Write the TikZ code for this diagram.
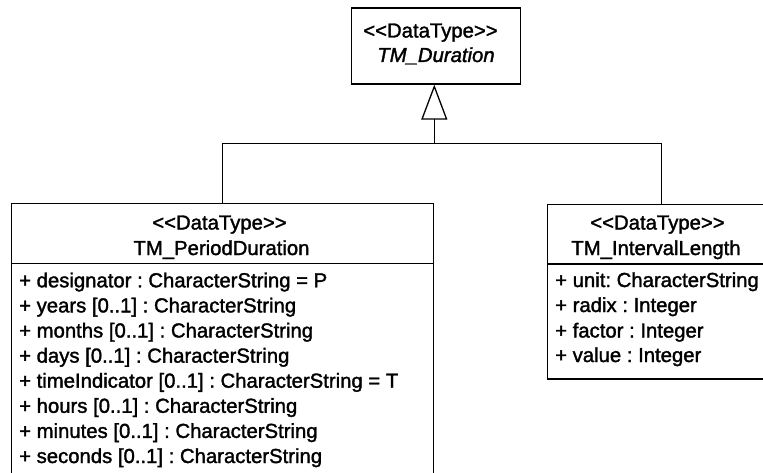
\documentclass[tikz,border=0pt]{standalone}
\usepackage{fontspec}
\setmainfont{Liberation Sans}[Ligatures=TeXOff, FakeBold=1.6]
\usetikzlibrary{arrows.meta}
\frenchspacing
\begin{document}
\begin{tikzpicture}[x=1pt,y=-1pt,
  umlbox/.style={draw, line width=1.3pt, inner sep=0pt, anchor=north west},
  txt/.style={font=\fontsize{20.3}{24}\selectfont\frenchspacing, inner sep=0pt, anchor=base},
  attr/.style={txt, anchor=base west},
  conn/.style={line width=1.3pt}]
\useasboundingbox (0,0) rectangle (763,473);
\clip (0,0) rectangle (763,473);
% boxes
\node[umlbox, minimum width=169pt, minimum height=76pt] (dur) at (351,7.3) {};
\node[umlbox, minimum width=421.7pt, minimum height=300pt] (pd) at (11,203) {};
\node[umlbox, minimum width=220pt, minimum height=174.3pt] (il) at (546.7,204) {};
% compartment lines
\draw[conn] ([yshift=-60.5pt]pd.north west) -- ([yshift=-60.5pt]pd.north east);
\draw[conn] ([yshift=-60pt]il.north west) -- ([yshift=-60pt]il.north east);
% header texts
\node[txt] (durst) at (430.5,37.5) {<<DataType>>};
\node[txt] (durnm) at (436,62) {\itshape TM\_Duration};
\node[txt] (pdst) at (219.5,229.5) {<<DataType>>};
\node[txt] (pdnm) at (221.5,255) {TM\_PeriodDuration};
\node[txt] (ilst) at (657.5,229.5) {<<DataType>>};
\node[txt] (ilnm) at (656,255) {TM\_IntervalLength};
% attributes
\node[attr] (a1) at (19,287.3) {+ designator : CharacterString = P};
\node[attr] (a2) at (19,312.4) {+ years [0..1] : CharacterString};
\node[attr] (a3) at (19,337.5) {+ months [0..1] : CharacterString};
\node[attr] (a4) at (19,362.6) {+ days [0..1] : CharacterString};
\node[attr] (a5) at (19,387.7) {+ timeIndicator [0..1] : CharacterString = T};
\node[attr] (a6) at (19,412.8) {+ hours [0..1] : CharacterString};
\node[attr] (a7) at (19,437.9) {+ minutes [0..1] : CharacterString};
\node[attr] (a8) at (19,463) {+ seconds [0..1] : CharacterString};
\node[attr] (b1) at (555,287) {+ unit: CharacterString};
\node[attr] (b2) at (555,312) {+ radix : Integer};
\node[attr] (b3) at (555,337.5) {+ factor : Integer};
\node[attr] (b4) at (555,362) {+ value : Integer};
% generalization
\coordinate (j) at (434.3,143.3);
\coordinate (iltop) at ([xshift=115pt]il.north west);
\draw[conn] (pd.north) |- (j);
\draw[conn] (iltop) |- (j);
\draw[conn, -{Triangle[open, width=26pt, length=35pt]}] (j) -- (j |- dur.south);
\end{tikzpicture}
\end{document}
